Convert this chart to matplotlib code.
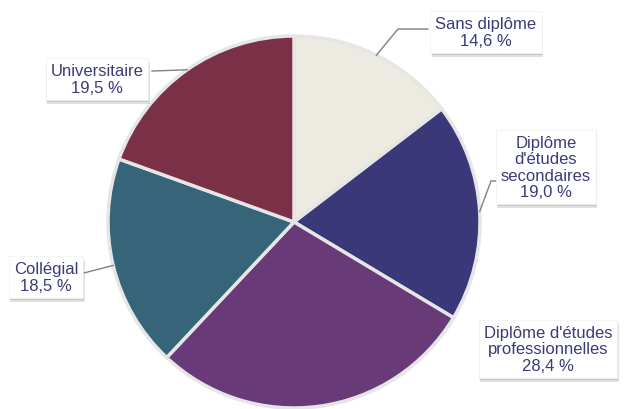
import matplotlib
matplotlib.use("Agg")
import numpy as np
import matplotlib.pyplot as plt
import matplotlib.patheffects as pe

# Data
labels  = ["Sans diplôme", "Diplôme\nd'études\nsecondaires", "Diplôme d'études\nprofessionnelles", "Collégial", "Universitaire"]
values  = [14.6, 19.0, 28.4, 18.5, 19.5]
colors  = ["#ECEAE1", "#3A3878", "#693A78", "#36657A", "#7A3046"]

# label box centres and leader elbows (pixel coords, y from top)
label_pos = [(486, 33), (546, 168), (548, 350), (46, 278), (97, 80)]
elbow_pos = [(398, 30), (491, 182), None, (84, 274), (152, 72)]

W, H = 626, 410
cx, cy, r = 294, 223, 186
text_color = "#3B3B7A"

fig = plt.figure(figsize=(W / 100, H / 100), dpi=100)
ax = fig.add_axes([0, 0, 1, 1])

wedges, _ = ax.pie(values, colors=colors, startangle=90, counterclock=False,
                   center=(cx, H - cy), radius=r,
                   wedgeprops=dict(edgecolor="#E6E6E6", linewidth=2.5))
for w in wedges:
    w.set_path_effects([pe.SimplePatchShadow(offset=(1, -1), shadow_rgbFace="#999999", alpha=0.25), pe.Normal()])

ax.set_xlim(0, W)
ax.set_ylim(0, H)
ax.set_aspect("equal")
ax.axis("off")

cum = np.cumsum([0] + values[:-1])
for i, (lab, val) in enumerate(zip(labels, values)):
    mid = np.deg2rad(90 - (cum[i] + val / 2) * 3.6)
    px, py = cx + r * np.cos(mid), H - cy + r * np.sin(mid)
    tx, ty = label_pos[i]
    txt = f"{lab}\n{val:.1f} %".replace(".", ",")
    t = ax.text(tx, H - ty, txt, ha="center", va="center", fontsize=12,
                family="Liberation Sans", color=text_color, linespacing=1.1, zorder=5,
                bbox=dict(boxstyle="square,pad=0.3", facecolor="white", edgecolor="#F0F0F0", linewidth=0.5))
    t.get_bbox_patch().set_path_effects([
        pe.SimplePatchShadow(offset=(1, -3), shadow_rgbFace="#666666", alpha=0.2),
        pe.SimplePatchShadow(offset=(0.5, -1.5), shadow_rgbFace="#666666", alpha=0.2),
        pe.Normal()])
    if elbow_pos[i] is not None:
        ex, ey = elbow_pos[i]
        ey = H - ey
        if i == 0:
            ax.plot([px, ex, ex + 30], [py, ey, ey], color="#808080", lw=1, zorder=3)
        elif i == 1:
            ax.plot([px, ex, ex + 6], [py, ey, ey], color="#808080", lw=1, zorder=3)
        else:
            ax.plot([ex, px], [ey, py], color="#808080", lw=1, zorder=3)

fig.savefig("out.png", dpi=100, facecolor="white")
